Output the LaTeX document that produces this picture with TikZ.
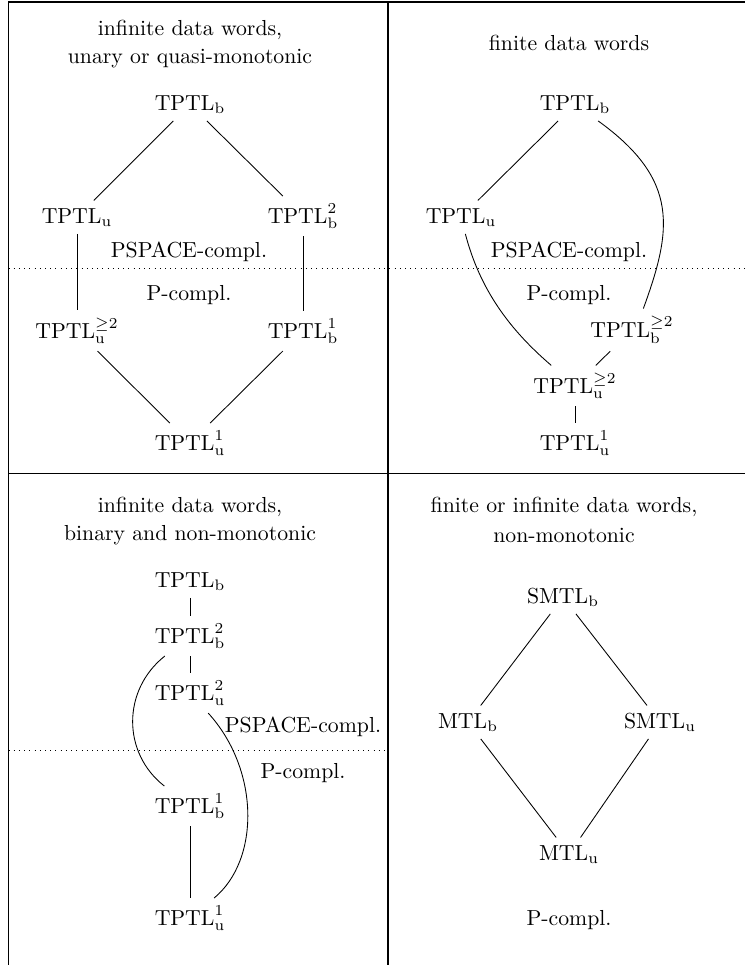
\documentclass[tikz,border=0pt]{standalone}
\begin{document}
\begin{tikzpicture}[x=0.46pt,y=-0.46pt,
  lbl/.style={anchor=base},
  edge/.style={line width=0.4pt},
  frame/.style={line width=0.8pt},
  sep/.style={dotted, line width=0.4pt}]
\useasboundingbox (0,0) rectangle (745,965);
% frame
\coordinate (tl) at (8.5,2);
\coordinate (tr) at (745,2);
\coordinate (bl) at (8.5,965);
\coordinate (ml) at (8.5,473.5);
\coordinate (mr) at (745,473.5);
\coordinate (vt) at (388,2);
\coordinate (vb) at (388,965);
\draw[frame] (tr) -- (tl) -- (bl);
\draw[frame] (ml) -- (mr);
\draw[frame] (vt) -- (vb);
% separators
\coordinate (d1a) at (8.5,268);
\coordinate (d1b) at (745,268);
\coordinate (d2a) at (8.5,750);
\coordinate (d2b) at (388,750);
\draw[sep] (d1a) -- (d1b);
\draw[sep] (d2a) -- (d2b);

% ---------- top left ----------
\node[lbl] (tA1) at (190,35) {infinite data words,};
\node[lbl] (tA2) at (190,63) {unary or quasi-monotonic};
\node[lbl] (a1) at (190,110) {$\mathrm{TPTL}_{\mathrm{b}}$};
\node[lbl] (a2) at (77,223) {$\mathrm{TPTL}_{\mathrm{u}}$};
\node[lbl] (a3) at (303,223) {$\mathrm{TPTL}^{2}_{\mathrm{b}}$};
\node[lbl] (aPS) at (189,257) {PSPACE-compl.};
\node[lbl] (aP) at (189,300) {P-compl.};
\node[lbl] (a4) at (77,338) {$\mathrm{TPTL}^{\geq 2}_{\mathrm{u}}$};
\node[lbl] (a5) at (303,338) {$\mathrm{TPTL}^{1}_{\mathrm{b}}$};
\node[lbl] (a6) at (190,450) {$\mathrm{TPTL}^{1}_{\mathrm{u}}$};
\draw[edge] (a1) -- (a2);
\draw[edge] (a1) -- (a3);
\draw[edge] (a2) -- (a4);
\draw[edge] (a3) -- (a5);
\draw[edge] (a4) -- (a6);
\draw[edge] (a5) -- (a6);

% ---------- top right ----------
\node[lbl] (tB1) at (569,50) {finite data words};
\node[lbl] (b1) at (575,110) {$\mathrm{TPTL}_{\mathrm{b}}$};
\node[lbl] (b2) at (461,223) {$\mathrm{TPTL}_{\mathrm{u}}$};
\node[lbl] (bPS) at (569,257) {PSPACE-compl.};
\node[lbl] (bP) at (569,300) {P-compl.};
\node[lbl] (b3) at (632,337) {$\mathrm{TPTL}^{\geq 2}_{\mathrm{b}}$};
\node[lbl] (b4) at (575,393) {$\mathrm{TPTL}^{\geq 2}_{\mathrm{u}}$};
\node[lbl] (b5) at (575,450) {$\mathrm{TPTL}^{1}_{\mathrm{u}}$};
\draw[edge] (b1) -- (b2);
\draw[edge] (b1) .. controls (680,180) and (672,230) .. (b3.62);
\draw[edge] (b2) .. controls (480,290) and (510,330) .. (b4);
\draw[edge] (b3) -- (b4);
\draw[edge] (b4) -- (b5);

% ---------- bottom left ----------
\node[lbl] (tC1) at (190,512) {infinite data words,};
\node[lbl] (tC2) at (190,540) {binary and non-monotonic};
\node[lbl] (c1) at (190,587) {$\mathrm{TPTL}_{\mathrm{b}}$};
\node[lbl] (c2) at (190,643) {$\mathrm{TPTL}^{2}_{\mathrm{b}}$};
\node[lbl] (c3) at (190,700) {$\mathrm{TPTL}^{2}_{\mathrm{u}}$};
\node[lbl] (cPS) at (303,732) {PSPACE-compl.};
\node[lbl] (cP) at (303,778) {P-compl.};
\node[lbl] (c4) at (190,813) {$\mathrm{TPTL}^{1}_{\mathrm{b}}$};
\node[lbl] (c5) at (190,925) {$\mathrm{TPTL}^{1}_{\mathrm{u}}$};
\draw[edge] (c1) -- (c2);
\draw[edge] (c2) -- (c3);
\draw[edge] (c2) .. controls (122,690) and (122,753) .. (c4);
\draw[edge] (c3) .. controls (260,770) and (260,860) .. (c5);
\draw[edge] (c4) -- (c5);

% ---------- bottom right ----------
\node[lbl] (tD1) at (564,512) {finite or infinite data words,};
\node[lbl] (tD2) at (564,542) {non-monotonic};
\node[lbl] (d1) at (563,603) {$\mathrm{SMTL}_{\mathrm{b}}$};
\node[lbl] (d2) at (468,728) {$\mathrm{MTL}_{\mathrm{b}}$};
\node[lbl] (d3) at (660,728) {$\mathrm{SMTL}_{\mathrm{u}}$};
\node[lbl] (d4) at (569,860) {$\mathrm{MTL}_{\mathrm{u}}$};
\node[lbl] (dP) at (569,925) {P-compl.};
\draw[edge] (d1) -- (d2);
\draw[edge] (d1) -- (d3);
\draw[edge] (d2) -- (d4);
\draw[edge] (d3) -- (d4);
\end{tikzpicture}
\end{document}
